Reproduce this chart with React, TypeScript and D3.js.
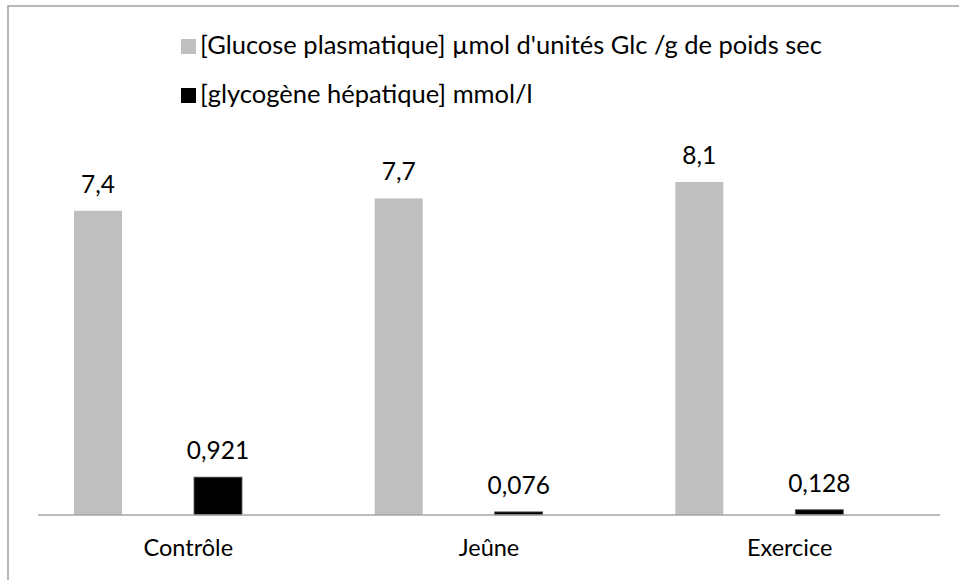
import * as d3 from "d3";

const categories = ["Contrôle", "Jeûne", "Exercice"];
const seriesNames = [
  "[Glucose plasmatique] µmol d'unités Glc /g de poids sec",
  "[glycogène hépatique] mmol/l",
];
const glucose = [7.4, 7.7, 8.1];
const glycogene = [0.921, 0.076, 0.128];
const colors = ["#bfbfbf", "#000000"];

const W = 959;
const H = 580;
const FONT = "Lato, 'Open Sans', sans-serif";

const fr = d3.formatLocale({ decimal: ",", thousands: " ", grouping: [3], currency: ["", "€"] });
const fmt = (v: number) => fr.format("~r")(v);

export default function App() {
  const x0 = d3.scaleBand().domain(categories).range([38, 940]);
  const x1 = d3.scaleBand().domain(seriesNames).range([0, 240]);
  const y = d3.scaleLinear().domain([0, 9]).range([515, 145]);
  const barW = 48;
  const values = [glucose, glycogene];

  return (
    <svg
      width={W}
      height={H}
      style={{ position: "absolute", left: 0, top: 0, background: "#fff" }}
      fontFamily={FONT}
    >
      <rect x={8} y={6} width={W + 20} height={H + 20} fill="#fff" stroke="#a0a0a0" strokeWidth={1.5} />

      {/* legend */}
      {seriesNames.map((s, i) => (
        <g key={s} transform={`translate(181,${39 + i * 49})`}>
          <rect width={15} height={15} fill={colors[i]} />
          <text x={19} y={15} fontSize={25.5} fill="#000">
            {s}
          </text>
        </g>
      ))}

      {/* bars */}
      {categories.map((c, ci) => (
        <g key={c} transform={`translate(${x0(c)},0)`}>
          {seriesNames.map((s, si) => {
            const v = values[si][ci];
            const cx = (x1(s) ?? 0) + x1.bandwidth() / 2;
            return (
              <g key={s}>
                <rect
                  x={cx - barW / 2}
                  y={y(v)}
                  width={barW}
                  height={y(0) - y(v)}
                  fill={colors[si]}
                  stroke={si === 1 ? "#595959" : "none"}
                  strokeWidth={0.8}
                />
                <text x={cx} y={y(v) - 18} textAnchor="middle" fontSize={24.5} fill="#000">
                  {fmt(v)}
                </text>
              </g>
            );
          })}
          <text x={x0.bandwidth() / 2} y={556} textAnchor="middle" fontSize={23.5} fill="#000">
            {c}
          </text>
        </g>
      ))}

      {/* axis */}
      <line x1={38} x2={940} y1={y(0)} y2={y(0)} stroke="#a6a6a6" strokeWidth={1.5} />
    </svg>
  );
}
